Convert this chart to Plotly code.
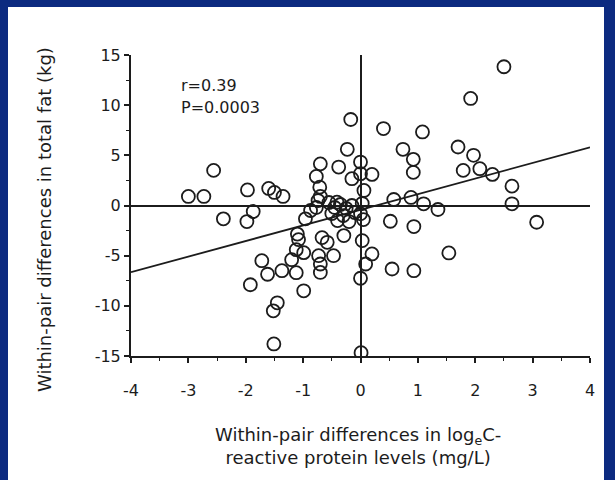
import plotly.graph_objects as go

# ---- data ----
crp_diff = [
    -3.00, -2.73, -2.56, -2.39, -1.97, -1.87, -1.98, -1.60, -1.50, -1.35,
    -1.92, -1.72, -1.62, -1.45, -1.52, -1.51, -1.37, -1.20, -1.12, -1.12,
    -0.99, -0.99, -1.10, -1.08, -0.96, -0.87, -0.74, -0.77, -0.70, -0.77,
    -0.71, -0.70, -0.67, -0.58, -0.73, -0.70, -0.70, -0.47, -0.29, -0.17,
    -0.23, -0.38, -0.15, 0.00, 0.00, 0.20, 0.06, 0.03, 0.20, 0.09,
    0.00, 0.01, -0.55, -0.45, -0.35, -0.25, -0.50, -0.30, -0.15, -0.10,
    0.03, 0.00, -0.40, -0.20, 0.05, 0.40, 1.08, 0.74, 0.92, 0.92,
    0.58, 0.88, 1.10, 1.35, 0.52, 0.93, 0.55, 0.93, 1.54, 1.70,
    1.97, 1.79, 2.08, 2.30, 2.64, 2.64, 3.07, 1.92, 2.50, -0.41,
]
fat_diff = [
    0.9, 0.9, 3.5, -1.33, 1.55, -0.6, -1.6, 1.7, 1.3, 0.9,
    -7.9, -5.5, -6.85, -9.7, -10.5, -13.8, -6.5, -5.4, -6.7, -4.4,
    -4.7, -8.5, -2.85, -3.4, -1.33, -0.5, 0.5, -0.2, 4.15, 2.9,
    1.83, 0.9, -3.2, -3.67, -5.0, -5.83, -6.67, -5.0, -3.0, 8.57,
    5.6, 3.83, 2.67, 4.33, 3.17, 3.1, 1.5, -3.5, -4.83, -5.83,
    -7.25, -14.67, 0.3, -0.2, 0.1, -0.3, -0.8, -1.0, 0.0, -0.7,
    0.2, -0.83, -1.5, -1.6, -1.4, 7.67, 7.33, 5.6, 4.6, 3.3,
    0.6, 0.8, 0.17, -0.4, -1.57, -2.1, -6.33, -6.5, -4.73, 5.83,
    5.0, 3.5, 3.67, 3.1, 1.93, 0.17, -1.67, 10.67, 13.83, 0.33,
]
fit_x = [-4, 4]
fit_y = [-6.65, 5.8]

x_ticks = [-4, -3, -2, -1, 0, 1, 2, 3, 4]
x_ticktext = ["-4", "-3", "-2", "-1", "0", "1", "2", "3", "4"]
y_ticks = [15, 10, 5, 0, -5, -10, -15]
y_ticktext = ["15", "10", "5", "0", "-5", "-10", "-15"]

stats_lines = ["r=0.39", "P=0.0003"]
x_title = "Within-pair differences in log<sub>e</sub>C-<br>reactive protein levels (mg/L)"
y_title = "Within-pair differences in total fat (kg)"

FONT = "DejaVu Sans, Arial, sans-serif"
INK = "#1c1c1c"
BLUE = "#0c2a80"

W, H = 615, 480
L, R, T, B = 131, 25, 55, 124
pw, ph = W - L - R, H - T - B

fig = go.Figure()
fig.add_trace(go.Scatter(
    x=fit_x, y=fit_y, mode="lines",
    line=dict(color=INK, width=1.8), hoverinfo="skip", showlegend=False,
))
fig.add_trace(go.Scatter(
    x=crp_diff, y=fat_diff, mode="markers",
    marker=dict(symbol="circle-open", size=13, color=INK,
                line=dict(width=1.8, color=INK)),
    showlegend=False,
))

axis_common = dict(
    showline=True, linecolor=INK, linewidth=2,
    ticks="outside", ticklen=5, tickwidth=1.5, tickcolor=INK,
    showgrid=False, zeroline=True, zerolinecolor=INK, zerolinewidth=1.6,
    tickfont=dict(family=FONT, size=16, color=INK),
    mirror=False, fixedrange=True,
)

fig.update_layout(
    width=W, height=H,
    margin=dict(l=L, r=R, t=T, b=B, pad=0),
    paper_bgcolor=BLUE, plot_bgcolor="white",
    font=dict(family=FONT, color=INK),
    xaxis=dict(range=[-4, 4], tickvals=x_ticks, ticktext=x_ticktext,
               minor=dict(dtick=0.5, tick0=0, ticks="outside", ticklen=3,
                          tickwidth=1.2, tickcolor=INK),
               ticklabelstandoff=14, **axis_common),
    yaxis=dict(range=[-15, 15], tickvals=y_ticks, ticktext=y_ticktext,
               minor=dict(dtick=2.5, tick0=0, ticks="outside", ticklen=3,
                          tickwidth=1.2, tickcolor=INK),
               **axis_common),
    shapes=[dict(type="rect", xref="paper", yref="paper", layer="below",
                 x0=(8 - L) / pw, x1=(604 - L) / pw,
                 y0=(H - B - 480) / ph, y1=(H - B - 7) / ph,
                 fillcolor="white", line=dict(width=0))],
)

fig.add_annotation(text=stats_lines[0], xref="paper", yref="paper",
                   x=(179 - L) / pw, y=(H - B - 85) / ph, xanchor="left", yanchor="middle",
                   showarrow=False, font=dict(family=FONT, size=16, color=INK))
fig.add_annotation(text=stats_lines[1], xref="paper", yref="paper",
                   x=(179 - L) / pw, y=(H - B - 107) / ph, xanchor="left", yanchor="middle",
                   showarrow=False, font=dict(family=FONT, size=16, color=INK))
fig.add_annotation(text=x_title, xref="paper", yref="paper",
                   x=(358 - L) / pw, y=(H - B - 422) / ph, xanchor="center", yanchor="top",
                   showarrow=False, align="center",
                   font=dict(family=FONT, size=18, color=INK))
fig.add_annotation(text=y_title, xref="paper", yref="paper", textangle=-90,
                   x=(45 - L) / pw, y=(H - B - 220) / ph, xanchor="center", yanchor="middle",
                   showarrow=False, font=dict(family=FONT, size=18, color=INK))

fig.write_html("out.html")
